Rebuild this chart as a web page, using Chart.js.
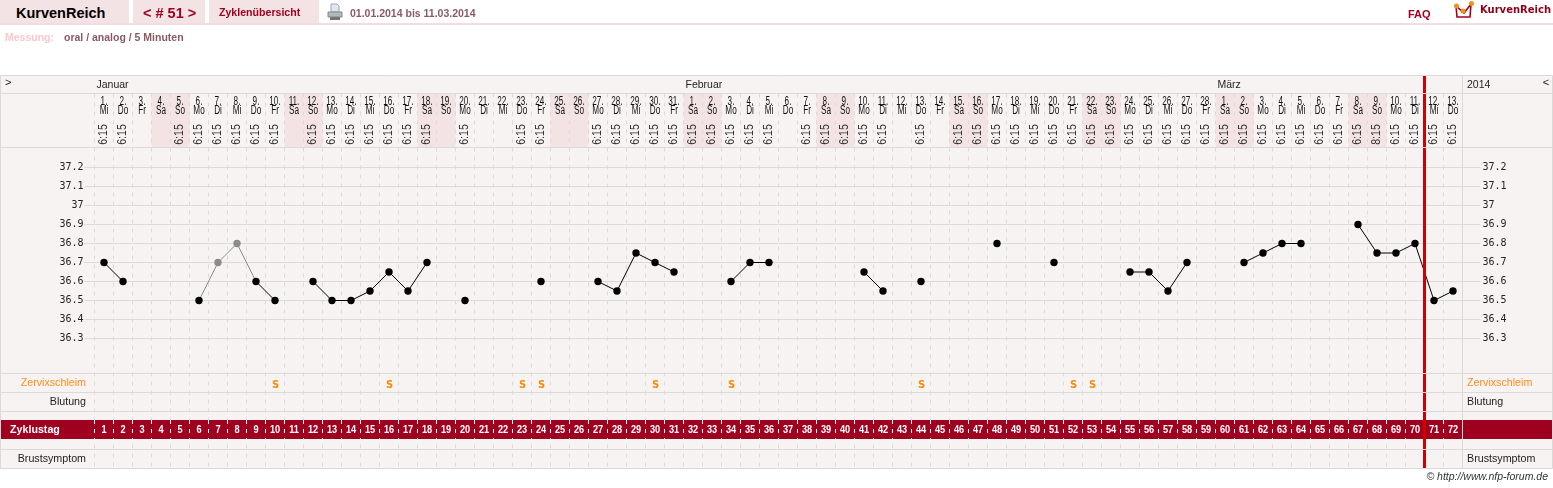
<!DOCTYPE html>
<html lang="de">
<head>
<meta charset="utf-8">
<title>KurvenReich</title>
<script src="https://cdn.jsdelivr.net/npm/chart.js@4/dist/chart.umd.min.js"></script>
<style>
  html, body { margin: 0; padding: 0; background: #fff; overflow: hidden; }
  body { width: 1553px; height: 488px; position: relative; font-family: "Liberation Sans", Arial, sans-serif; }
  #chart { position: absolute; left: 0; top: 0; }
  .rule { position: absolute; left: 0; top: 23px; width: 1553px; height: 2px; background: #f3dde0; }
  .tab { position: absolute; top: 0; height: 23px; background: #f3e3e5; }
  .txt { position: absolute; white-space: nowrap; font-weight: bold; line-height: 14px; }
  .dull { color: #8a5a63; font-size: 10.5px; }
  .red { color: #a00020; }
  svg { position: absolute; }
</style>
</head>
<body>
<canvas id="chart" width="1553" height="488"></canvas>

<div class="tab" style="left:0;width:129px"></div>
<div class="tab" style="left:133px;width:72px"></div>
<div class="tab" style="left:209px;width:110px"></div>
<div class="rule"></div>
<div class="txt" style="left:16px;top:6px;font-size:14.5px;color:#000">KurvenReich</div>
<div class="txt red" style="left:143px;top:6px;font-size:14.5px">&lt; # 51 &gt;</div>
<div class="txt red" style="left:219px;top:5px;font-size:10.6px">Zyklenübersicht</div>
<svg style="left:327px;top:3px" width="16" height="18" viewBox="0 0 16 18">
  <path d="M4 1h6l2 2v6H4z" fill="#dfe8f2" stroke="#9aa6b2"/>
  <path d="M1 9h14v5H1z" fill="#b4b8bc" stroke="#85898e"/>
  <path d="M3 14h10v3H3z" fill="#70757a"/>
</svg>
<div class="txt dull" style="left:350px;top:6px">01.01.2014 bis 11.03.2014</div>
<div class="txt" style="left:5px;top:30px;font-size:10.5px;color:#fcc8cc">Messung:</div>
<div class="txt dull" style="left:64px;top:30px">oral / analog / 5 Minuten</div>
<div class="txt red" style="left:1408px;top:7px;font-size:11px">FAQ</div>
<svg style="left:1453px;top:0" width="22" height="19" viewBox="0 0 22 19">
  <path d="M3 6l1 11h13l1-13-7 9z" fill="#fff" stroke="#a00020" stroke-width="1.6"/>
  <circle cx="3.5" cy="6" r="2.5" fill="#f09020"/><circle cx="10" cy="11" r="2.5" fill="#f09020"/><circle cx="18.5" cy="3.5" r="2.5" fill="#f09020"/>
</svg>
<div class="txt" style="left:1480px;top:3px;font-family:'DejaVu Sans';font-size:10px;color:#8c0018">KurvenReich</div>
<div class="txt" style="right:5px;top:469px;font-size:10.5px;font-weight:normal;font-style:italic;color:#333">© http://www.nfp-forum.de</div>

<script>
// one entry per cycle day
const cycleDays = [1,2,3,4,5,6,7,8,9,10,11,12,13,14,15,16,17,18,19,20,21,22,23,24,25,26,27,28,29,30,31,32,33,34,35,36,
  37,38,39,40,41,42,43,44,45,46,47,48,49,50,51,52,53,54,55,56,57,58,59,60,61,62,63,64,65,66,67,68,69,70,71,72]
const dates = [1,2,3,4,5,6,7,8,9,10,11,12,13,14,15,16,17,18,19,20,21,22,23,24,25,26,27,28,29,30,31,
  1,2,3,4,5,6,7,8,9,10,11,12,13,14,15,16,17,18,19,20,21,22,23,24,25,26,27,28,
  1,2,3,4,5,6,7,8,9,10,11,12,13]
const weekdays = ['Mi','Do','Fr','Sa','So','Mo','Di','Mi','Do','Fr','Sa','So','Mo','Di','Mi','Do','Fr','Sa','So','Mo','Di','Mi','Do','Fr','Sa','So','Mo','Di','Mi','Do','Fr',
  'Sa','So','Mo','Di','Mi','Do','Fr','Sa','So','Mo','Di','Mi','Do','Fr','Sa','So','Mo','Di','Mi','Do','Fr','Sa','So','Mo','Di','Mi','Do','Fr',
  'Sa','So','Mo','Di','Mi','Do','Fr','Sa','So','Mo','Di','Mi','Do']
const times = ['6:15','6:15',null,null,'6:15','6:15','6:15','6:15','6:15','6:15',null,'6:15','6:15','6:15','6:15','6:15','6:15','6:15',null,'6:15',null,null,'6:15','6:15',null,null,'6:15','6:15','6:15','6:15','6:15',
  '6:15','6:15','6:15','6:15','6:15',null,'6:15','6:15','6:15','6:15','6:15',null,'6:15',null,'6:15','6:15','6:15','6:15','6:15','6:15','6:15','6:15','6:15','6:15','6:15','6:15','6:15','6:15',
  '6:15','6:15','6:15','6:15','6:15','6:15','6:15','6:15','8:15','6:15','6:15','6:15','6:15']
const temps = [36.7,36.6,null,null,null,36.5,36.7,36.8,36.6,36.5,null,36.6,36.5,36.5,36.55,36.65,36.55,36.7,null,36.5,null,null,null,36.6,null,null,36.6,36.55,36.75,36.7,36.65,
  null,null,36.6,36.7,36.7,null,null,null,null,36.65,36.55,null,36.6,null,null,null,36.8,null,null,36.7,null,null,null,36.65,36.65,36.55,36.7,null,
  null,36.7,36.75,36.8,36.8,null,null,36.9,36.75,36.75,36.8,36.5,36.55]
const excludedDays = [7,8]
const mucusDays = [10,16,23,24,30,34,44,52,53]
const tempTicks = [36.3,36.4,36.5,36.6,36.7,36.8,36.9,37,37.1,37.2]
const months = ['Januar','Februar','März']
const monthStartDays = [1,32,60]
const todayEdge = 70.5

// pixel layout of the table around the plot
const ROW_LINES = [75.5,93.5,147.5,373.5,392.5,411.5,449.5,468.5]
const LEFT = 94.5, RIGHT = 1462.5
const LINE = '#dcd9d9', PANEL = '#f8f3f3', SHADE = '#f3e3e5', BAND = '#a00020'
const DASH = [4, 5]

// 19px per 0.1 degree, 36.5 sits on y=300.5
const yMin = 35.6158, yMax = 37.5895
const yMarkTop = 37.6868, yMarkBottom = 35.6158

function text(ctx, str, x, y, font, color, align, squeeze) {
  ctx.save()
  ctx.font = font
  ctx.fillStyle = color
  ctx.textAlign = align || 'center'
  ctx.textBaseline = 'middle'
  ctx.translate(x, y)
  ctx.scale(squeeze || 1, 1)
  ctx.fillText(str, 0, 0)
  ctx.restore()
}

const tablePlugin = {
  id: 'table',
  beforeDraw(chart) {
    const ctx = chart.ctx, x = chart.scales.x
    ctx.save()
    ctx.fillStyle = PANEL
    ctx.fillRect(0.5, 75.5, 1552, 393)
    // weekend shading in the header row
    ctx.fillStyle = SHADE
    cycleDays.forEach((d, i) => {
      if (weekdays[i] === 'Sa' || weekdays[i] === 'So')
        ctx.fillRect(x.getPixelForValue(d - 0.5), 93.5, 19, 54)
    })
    ctx.restore()
  },
  beforeDatasetsDraw(chart) {
    const ctx = chart.ctx, x = chart.scales.x
    ctx.save()
    // red band, with its own white dashes
    ctx.fillStyle = BAND
    ctx.fillRect(0.5, 420, 1552, 19)
    ctx.strokeStyle = '#fff'
    ctx.lineWidth = 1
    ctx.setLineDash(DASH)
    cycleDays.forEach(d => {
      const px = x.getPixelForValue(d - 0.5)
      ctx.beginPath()
      ctx.moveTo(px, 420)
      ctx.lineTo(px, 439)
      ctx.stroke()
    })
    ctx.setLineDash([])

    // month row
    text(ctx, '>', 5, 83, '11px "Liberation Sans"', '#222', 'left')
    months.forEach((m, i) => {
      text(ctx, m, x.getPixelForValue(monthStartDays[i] - 0.5) + 2, 85, '10.5px "Liberation Sans"', '#222', 'left')
    })
    text(ctx, '2014', 1467, 85, '10.5px "Liberation Sans"', '#222', 'left')
    text(ctx, '<', 1546, 83, '11px "Liberation Sans"', '#222', 'center')

    // day header
    cycleDays.forEach((d, i) => {
      const px = x.getPixelForValue(d)
      text(ctx, dates[i] + '.', px, 102, '12px "Liberation Sans"', '#111', 'center', 0.68)
      text(ctx, weekdays[i], px, 111, '12px "Liberation Sans"', '#111', 'center', 0.68)
      if (times[i]) {
        ctx.save()
        ctx.translate(px, 134.5)
        ctx.rotate(-Math.PI / 2)
        text(ctx, times[i], 0, 0, '12px "Liberation Sans"', '#333', 'center', 0.88)
        ctx.restore()
      }
      text(ctx, String(d), px, 430, 'bold 10px "Liberation Sans"', '#fff', 'center', 0.92)
    })

    // row captions
    const rowFont = '10.7px "Liberation Sans"'
    text(ctx, 'Zervixschleim', 86, 383, rowFont, '#ff8c1a', 'right')
    text(ctx, 'Blutung', 86, 402, rowFont, '#222', 'right')
    text(ctx, 'Zyklustag', 10, 430, 'bold 10.7px "Liberation Sans"', '#fff', 'left')
    text(ctx, 'Brustsymptom', 86, 459, rowFont, '#222', 'right')
    text(ctx, 'Zervixschleim', 1467, 383, rowFont, '#ff8c1a', 'left')
    text(ctx, 'Blutung', 1467, 402, rowFont, '#222', 'left')
    text(ctx, 'Brustsymptom', 1467, 459, rowFont, '#222', 'left')

    mucusDays.forEach(d => {
      text(ctx, 'S', x.getPixelForValue(d) + 0.5, 385, 'bold 10px "DejaVu Sans"', '#f58a0b')
    })
    ctx.restore()
  },
  afterDatasetsDraw(chart) {
    const ctx = chart.ctx
    ctx.save()
    ctx.strokeStyle = LINE
    ctx.lineWidth = 1
    ROW_LINES.forEach(y => {
      ctx.beginPath()
      ctx.moveTo(0.5, y)
      ctx.lineTo(1552.5, y)
      ctx.stroke()
    })
    ctx.beginPath()
    ctx.moveTo(0.5, 75.5); ctx.lineTo(0.5, 468.5)
    ctx.moveTo(1552.5, 75.5); ctx.lineTo(1552.5, 468.5)
    ctx.moveTo(RIGHT, 75.5); ctx.lineTo(RIGHT, 468.5)
    ctx.stroke()
    ctx.restore()
  }
}

const isExcluded = day => excludedDays.includes(day)
const gridEdges = [0.5].concat(cycleDays.map(d => d + 0.5))

new Chart(document.getElementById('chart'), {
  type: 'line',
  data: {
    datasets: [
      {
        label: 'today',
        data: [{ x: todayEdge, y: yMarkTop }, { x: todayEdge, y: yMarkBottom }],
        borderColor: '#d00000',
        borderWidth: 3,
        pointRadius: 0,
        clip: false,
        order: 0
      },
      {
        label: 'Temperatur',
        data: cycleDays.map((d, i) => ({ x: d, y: temps[i] })),
        borderColor: '#000',
        borderWidth: 1,
        pointRadius: 3.7,
        pointBorderWidth: 0,
        pointBackgroundColor: c => isExcluded(c.parsed && c.parsed.x) ? '#8c8c8c' : '#000',
        segment: {
          borderColor: c => (isExcluded(c.p0.parsed.x) || isExcluded(c.p1.parsed.x)) ? '#8c8c8c' : '#000'
        },
        spanGaps: false,
        tension: 0,
        order: 1
      }
    ]
  },
  options: {
    responsive: false,
    animation: false,
    events: [],
    layout: { padding: { top: 93.5, bottom: 19.5, left: 0, right: 0 } },
    plugins: { legend: { display: false }, tooltip: { enabled: false } },
    scales: {
      x: {
        type: 'linear',
        min: 0.5,
        max: 72.5,
        afterBuildTicks: axis => { axis.ticks = gridEdges.map(value => ({ value })) },
        afterFit: axis => { axis.height = 0 },
        ticks: { display: false },
        border: { display: false, dash: DASH },
        grid: { color: LINE, lineWidth: 1, drawTicks: false }
      },
      y: {
        position: 'left',
        min: yMin,
        max: yMax,
        afterBuildTicks: axis => { axis.ticks = tempTicks.map(value => ({ value })) },
        afterFit: axis => { axis.width = LEFT },
        border: { display: false },
        grid: { color: LINE, lineWidth: 1, tickLength: 10, drawTicks: true },
        ticks: {
          callback: v => String(v),
          padding: 1,
          color: '#222',
          font: { family: '"DejaVu Sans Mono"', size: 10 }
        }
      },
      y2: {
        position: 'right',
        min: yMin,
        max: yMax,
        afterBuildTicks: axis => { axis.ticks = tempTicks.map(value => ({ value })) },
        afterFit: axis => { axis.width = 1553 - RIGHT },
        border: { display: false },
        grid: { color: LINE, lineWidth: 1, tickLength: 18, drawOnChartArea: false },
        ticks: {
          callback: v => String(v),
          padding: 2,
          color: '#222',
          font: { family: '"DejaVu Sans Mono"', size: 10 }
        }
      }
    }
  },
  plugins: [tablePlugin]
})
</script>
</body>
</html>
